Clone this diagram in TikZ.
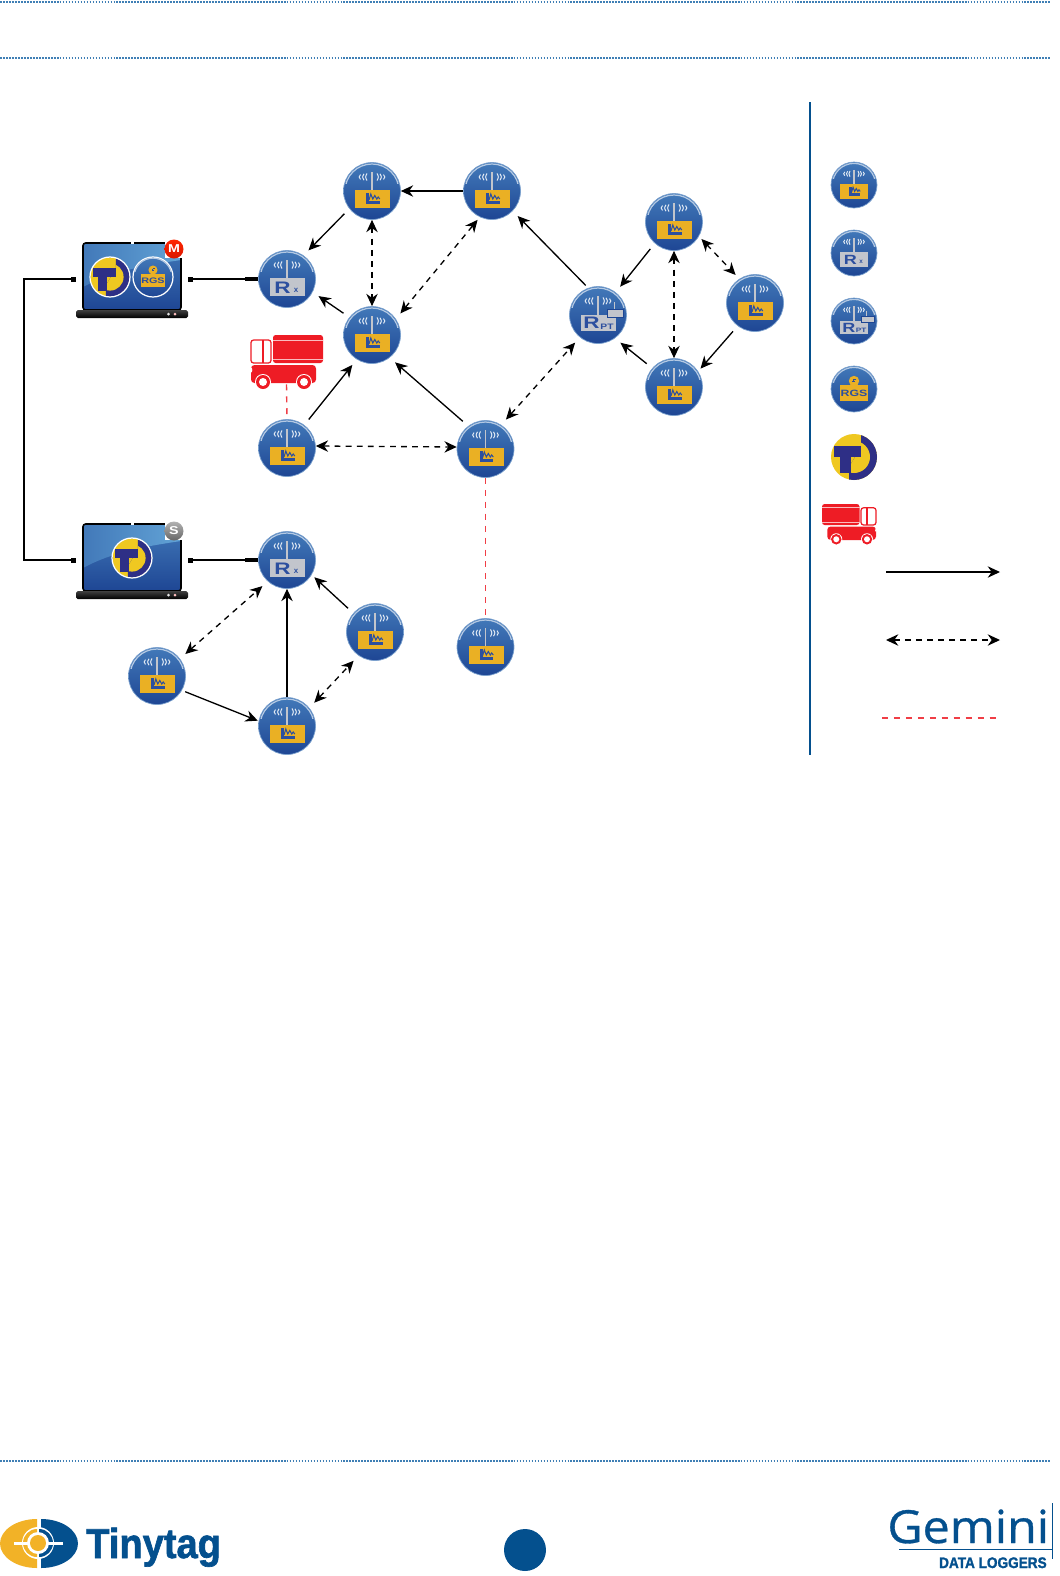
\documentclass[tikz,border=0pt]{standalone}
\usepackage{fontspec}
\setmainfont{Liberation Sans}
\newfontfamily\geminifont[FakeBold=0.7]{Open Sans}
\newfontfamily\tagfont[BoldFeatures={FakeBold=1.6}]{Liberation Sans}
\usetikzlibrary{arrows.meta, positioning, calc}

\definecolor{rulecol}{HTML}{3F7FB5}
\definecolor{pageblue}{HTML}{04508E}
\definecolor{badgetop}{HTML}{4279B9}
\definecolor{badgebot}{HTML}{1E4694}
\definecolor{boxyellow}{HTML}{EAB024}
\definecolor{chartblue}{HTML}{2C4F9F}
\definecolor{boxgrey}{HTML}{C2C5CC}
\definecolor{tyellow}{HTML}{EFC821}
\definecolor{tnavy}{HTML}{2E2F86}
\definecolor{truckred}{HTML}{EE1C25}
\definecolor{logogold}{HTML}{F2B227}
\definecolor{screenlight}{HTML}{62A3D6}

\tikzset{
  waves/.pic={
    \draw[boxgrey, line width=0.8pt] (0,-19) -- (0,0);
    \foreach \r/\h in {5/3.6, 8/3.2, 11.5/2.4} {
      \draw[white!85!badgetop, line width=0.55pt] (\r,-14-\h) .. controls (\r+1.8,-14) .. (\r,-14+\h);
      \draw[white!85!badgetop, line width=0.55pt] (-\r,-14-\h) .. controls (-\r-1.8,-14) .. (-\r,-14+\h);
    }
  },
  rim/.pic={
    \begin{scope}
      \clip (-30,-30) rectangle (30,-8);
      \draw[white!60!badgetop, line width=0.7pt] (0,0) circle (27);
    \end{scope}
  },
  loggerface/.pic={
    \pic[transform shape] {rim}; \pic[transform shape] {waves};
    \fill[boxyellow] (-17,-1) rectangle (18,17);
    \fill[chartblue] (-6,2.3) rectangle (-3,13.3);
    \fill[chartblue] (-6,10.2) rectangle (7.5,13.3);
    \draw[chartblue, line width=0.6pt] (-3,9) -- (-1.2,3) -- (0.8,8) -- (2.8,4.5) -- (4.8,8) -- (6.2,6) -- (7.8,8);
  },
  rxface/.pic={
    \pic[transform shape] {rim}; \pic[transform shape] {waves};
    \fill[boxgrey] (-17,-1) rectangle (17.5,17);
    \node[inner sep=0pt, font=\fontsize{9.5}{9.5}\selectfont\bfseries, text=chartblue, xscale=1.35, transform shape] at (-4.5,8.8) {R};
    \node[inner sep=0pt, font=\fontsize{4.5}{4.5}\selectfont\bfseries, text=chartblue, transform shape] at (9,11.5) {x};
  },
  rptface/.pic={
    \pic[transform shape] {rim}; \pic[transform shape] {waves};
    \fill[boxgrey] (-17,0) rectangle (17.5,16);
    \draw[boxgrey, line width=0.5pt] (16,-13) -- (16,-6);
    \fill[boxgrey, draw=badgebot, line width=0.3pt] (9,-6) rectangle (25,2);
    \node[inner sep=0pt, font=\fontsize{9.5}{9.5}\selectfont\bfseries, text=chartblue, xscale=1.35, transform shape] at (-6.5,8.2) {R};
    \node[inner sep=0pt, font=\fontsize{4.5}{4.5}\selectfont\bfseries, text=chartblue, xscale=1.3, transform shape] at (9,11.5) {PT};
  },
  rgsface/.pic={
    \pic[transform shape] {rim};
    \fill[boxyellow] (0,-10) circle (6.5);
    \fill[boxyellow] (-17,-4.5) rectangle (17,14.5);
    \foreach \dx/\dy in {-1.5/-12, 0.6/-12.4, -1.9/-10, 0.2/-10.4} {
      \fill[chartblue] (\dx,\dy) rectangle ++(1.6,1.6);
    }
    \node[inner sep=0pt, font=\fontsize{6.5}{6.5}\selectfont\bfseries, text=chartblue, xscale=1.35, transform shape] at (0,5) {RGS};
  },
  tmark/.pic={
    \fill[tyellow] (0,0) circle (23);
    \begin{scope}
      \clip (7,-24) -- (24,-24) -- (24,24) -- (-5,24) -- (-5,10) -- (7,-10) -- cycle;
      \fill[tnavy] (0,0) circle (23);
      \fill[tyellow] (0,0) circle (16);
    \end{scope}
    \fill[tnavy] (-20.2,-10.7) rectangle (7.3,0.3);
    \fill[tnavy] (-13.7,0.3) rectangle (-3.3,16);
  },
  truckpic/.pic={
    \fill[truckred, rounded corners=1.5] (23,0) rectangle (73,28);
    \draw[white!70!truckred, line width=0.5pt] (23,5) -- (73,5) (23,24) -- (73,24);
    \draw[truckred, fill=white, line width=0.7pt, rounded corners=1.5] (1,5) rectangle (21,28);
    \draw[truckred, line width=0.7pt] (13,5) -- (13,28);
    \fill[truckred, rounded corners=2] (1,30) rectangle (66,48);
    \fill[white] (1,35) ellipse (1.3 and 2.5);
    \foreach \wx in {13,54} {
      \fill[white] (\wx,47) circle (8);
      \fill[truckred] (\wx,47) circle (7);
      \fill[white] (\wx,47) circle (4);
    }
  },
  laptop/.pic={
    \shade[top color=badgetop, bottom color=badgebot, rounded corners=1.5] (-49,-36) rectangle (49,31);
    \shade[left color=badgetop, right color=screenlight] (-49,-36) -- (49,-36) -- (49,-19)
      .. controls (15,-14) and (-20,-8) .. (-49,8) -- cycle;
    \draw[black, line width=0.9pt, rounded corners=1.5] (-49,-36) rectangle (49,31);
    \fill[white] (-1.5,-37.5) rectangle (1.5,-35);
    \shade[top color=black!75, bottom color=black, rounded corners=1] (-56,31) rectangle (56,39);
    \fill[black!10] (36.5,35) circle (1.5);
    \fill[red!25] (43,35) circle (1.5);
  }
}

\begin{document}
\begin{tikzpicture}[x=0.02cm, y=-0.02cm,
  badge/.style={circle, draw=badgetop!70!white, line width=0.4pt, top color=badgetop, bottom color=badgebot,
                minimum size=1.14cm, inner sep=0pt},
  smallbadge/.style={badge, minimum size=0.92cm},
  flag/.style={circle, inner sep=0pt, minimum size=0.38cm, font=\fontsize{6.5}{6.5}\selectfont\bfseries, text=white},
  logoring/.style={circle, draw=white, line width=0.7pt, inner sep=0pt, minimum size=0.8cm},
  port/.style={rectangle, fill=black, inner sep=0pt, minimum size=0.1cm},
  truckbox/.style={rectangle, inner sep=0pt, minimum width=1.46cm, minimum height=0.98cm},
  arr/.style={-{Stealth[length=7pt, width=6.5pt]}, line width=0.75pt, black},
  twoway/.style={{Stealth[length=7pt, width=6.5pt]}-{Stealth[length=7pt, width=6.5pt]}, line width=0.75pt, dash pattern=on 3.3pt off 3pt, black},
  link/.style={truckred!85!white, line width=0.8pt, dash pattern=on 3.4pt off 3.4pt},
  cable/.style={black, line width=0.8pt},
  topline/.style={rulecol, line width=0.6pt, dash pattern=on 1pt off 0.7pt},
  gap/.style={shorten <=4pt, shorten >=4pt},
  nearer/.style={shorten <=4pt, shorten >=2pt},
  nearest/.style={shorten <=2pt, shorten >=2pt}
]
  \useasboundingbox (0,0) rectangle (1059,1576);

  % page rules
  \coordinate (ruleAl) at (0,2);     \coordinate (ruleAr) at (1050,2);
  \coordinate (ruleBl) at (0,58);    \coordinate (ruleBr) at (1050,58);
  \coordinate (ruleCl) at (0,1461);  \coordinate (ruleCr) at (1050,1461);
  \draw[topline] (ruleAl) -- (ruleAr);
  \draw[topline] (ruleBl) -- (ruleBr);
  \draw[topline] (ruleCl) -- (ruleCr);

  % key divider
  \coordinate (keyTop) at (810,102);
  \coordinate (keyBot) at (810,755);
  \draw[pageblue, line width=0.7pt] (keyTop) -- (keyBot);

  % laptops
  \pic at (132,279) {laptop};
  \pic at (132,560) {laptop};
  \pic[scale=0.85] at (110,277) {tmark};
  \node[logoring] (markM) at (110,277) {};
  \node[badge, logoring, top color=badgetop, bottom color=badgebot] (rgsM) at (153,277) {};
  \pic[scale=0.7] at (rgsM) {rgsface};
  \pic[scale=0.85] at (132,558) {tmark};
  \node[logoring] (markS) at (132,558) {};
  \fill[white] (165,240) rectangle (183,258);
  \fill[white] (165,522) rectangle (183,540);
  \node[flag, top color=red!70!orange, bottom color=red!80!orange!85!black] (flagM) at (174,249) {\scalebox{1.25}[1]{M}};
  \node[flag, top color=black!30, bottom color=black!60] (flagS) at (174,531) {\scalebox{1.25}[1]{S}};

  % receivers and repeater
  \node[badge] (rxA) at (287,279) {};
  \pic at (rxA) {rxface};
  \node[badge] (rxB) at (287,560) {};
  \pic at (rxB) {rxface};
  \node[badge] (rpt) at (598,315) {};
  \pic at (rpt) {rptface};

  % loggers
  \foreach \name/\xpos/\ypos in {logA/372/191, logB/492/191, logC/372/335, logD/287/448, logE/485.5/449,
      logF/485.5/647, logG/674/222, logH/755/303, logI/674/387,
      logJ/375/632, logK/157/676, logL/287/726} {
    \node[badge] (\name) at (\xpos,\ypos) {};
    \pic at (\name) {loggerface};
  }

  % roaming logger
  \node[truckbox] (truck) at (286.5,359.5) {};
  \pic at (250,335) {truckpic};

  % ports and cables
  \node[port] (portMl) at (73.5,279) {};
  \node[port] (portMr) at (190.5,279) {};
  \node[port] (portSl) at (73.5,560) {};
  \node[port] (portSr) at (190.5,560) {};
  \draw[cable] (portMl) -- ++(-49.5,0) |- (portSl);
  \draw[cable] (portMr) -- (rxA);
  \draw[cable] (portSr) -- (rxB);
  \draw[black, line width=2.2pt] (rxA.west) -- ++(-13,0);
  \draw[black, line width=2.2pt] (rxB.west) -- ++(-13,0);

  % first network
  \draw[arr] (logB.west) -- (logA.east);
  \draw[arr, gap] (logA.218) -- (rxA.55);
  \draw[arr, gap] (logC.142) -- (rxA.-27);
  \draw[twoway] (logA.south) -- (logC.north);
  \draw[twoway, nearer] (logC.34) -- (logB.245);
  \draw[arr, gap] (logD.53) -- (logC.238);
  \draw[arr, gap] (logE.127) -- (logC.-52);
  \draw[twoway] (logD.4) -- (logE.176);
  \draw[twoway, gap] (logE.57) -- (rpt.231);
  \draw[arr, nearest, shorten >=4pt] (rpt.110) -- (logB.-44);
  \draw[arr, gap] (logG.228) -- (rpt.52);
  \draw[arr, gap] (logI.139) -- (rpt.-54);
  \draw[twoway] (logG.south) -- (logI.north);
  \draw[twoway, nearest, shorten >=3pt] (logG.-30) -- (logH.123);
  \draw[arr, nearer] (logH.233) -- (logI.33);
  \draw[link] (logE.south) -- (logF.north);
  \draw[link] (truck.south) -- (logD.north);

  % second network
  \draw[twoway, gap] (logK.37) -- (rxB.228);
  \draw[arr, nearest, shorten >=0.5pt] (logK.-30) -- (logL.170);
  \draw[arr] (logL.north) -- (rxB.south);
  \draw[arr, gap, shorten >=2pt] (logJ.139) -- (rxB.-31);
  \draw[twoway, gap] (logL.39) -- (logJ.235);

  % key
  \node[smallbadge] (keyLog) at (854,185) {};
  \pic[scale=0.8] at (keyLog) {loggerface};
  \node[smallbadge] (keyRx) at (854,253) {};
  \pic[scale=0.8] at (keyRx) {rxface};
  \node[smallbadge] (keyRpt) at (854,321) {};
  \pic[scale=0.8] at (keyRpt) {rptface};
  \node[smallbadge] (keyRgs) at (854,389) {};
  \pic[scale=0.8] at (keyRgs) {rgsface};
  \pic at (854,457) {tmark};
  \pic[xscale=-0.75, yscale=0.75] at (876.75,504) {truckpic};
  \coordinate (keyArrA) at (886,572);  \coordinate (keyArrB) at (1000,572);
  \coordinate (keyTwoA) at (886,640);  \coordinate (keyTwoB) at (1000,640);
  \coordinate (keyLinkA) at (882,718); \coordinate (keyLinkB) at (997,718);
  \draw[arr] (keyArrA) -- (keyArrB);
  \draw[twoway] (keyTwoA) -- (keyTwoB);
  \draw[link] (keyLinkA) -- (keyLinkB);

  % footer
  \node[circle, fill=pageblue, minimum size=0.84cm, inner sep=0pt] (pageDot) at (525,1550) {};

  \fill[logogold] (37,1519) arc[start angle=-90, end angle=-270, x radius=37, y radius=24.5] -- cycle;
  \fill[pageblue] (41,1519) arc[start angle=-90, end angle=90, x radius=37, y radius=24.5] -- cycle;
  \fill[white] (38,1543) circle (16);
  \fill[logogold] (37,1529) arc[start angle=-90, end angle=-270, radius=14] -- cycle;
  \fill[pageblue] (39,1529) arc[start angle=-90, end angle=90, radius=14] -- cycle;
  \fill[white] (38,1543) circle (11);
  \fill[logogold] (38,1543) circle (8);
  \fill[white] (14,1542) rectangle (29,1544.5);
  \fill[white] (47,1542) rectangle (63,1544.5);
  \node[anchor=base west, inner sep=0pt, font=\tagfont\fontsize{23.8}{24}\selectfont\bfseries, text=pageblue, xscale=0.91, transform shape] (tinytag) at (86,1558) {Tinytag};

  \node[anchor=base west, inner sep=0pt, font=\geminifont\fontsize{26}{26}\selectfont, text=pageblue, xscale=1.06, transform shape] (gemini) at (887,1543) {Gemini};
  \coordinate (gemRuleA) at (899,1549); \coordinate (gemRuleB) at (1052,1549);
  \coordinate (gemSideA) at (1052,1503); \coordinate (gemSideB) at (1052,1559);
  \draw[pageblue, line width=0.5pt] (gemRuleA) -- (gemRuleB);
  \draw[pageblue, line width=0.5pt] (gemSideA) -- (gemSideB);
  \node[anchor=base east, inner sep=0pt, font=\tagfont\fontsize{8.7}{9}\selectfont\bfseries, text=pageblue, xscale=0.89, transform shape] (gemtag) at (1047,1568) {DATA LOGGERS};
\end{tikzpicture}
\end{document}
